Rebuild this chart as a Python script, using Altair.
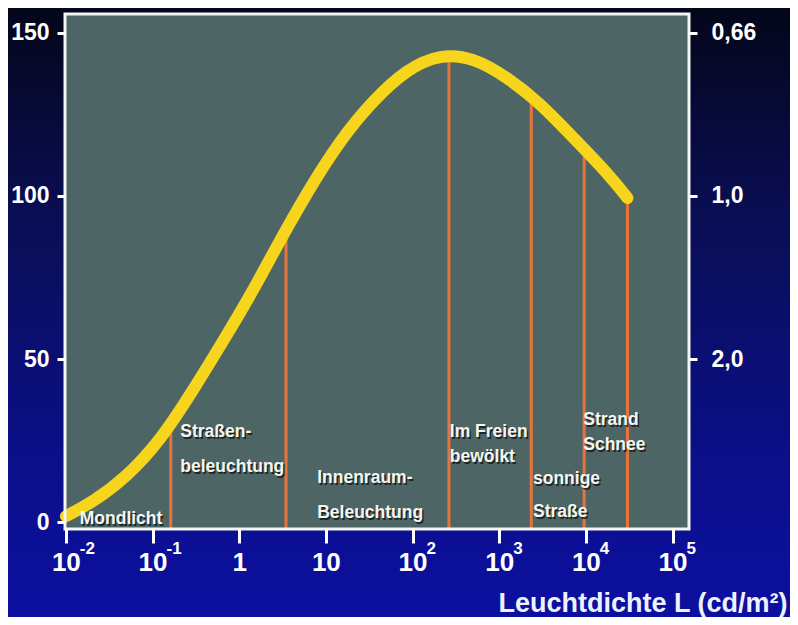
import altair as alt
import pandas as pd

# ---- data ----
curve_exp = [-2.0, -1.69, -1.30, -0.91, -0.53, -0.14, 0.16, 0.39, 0.78, 1.16, 1.55, 1.94, 2.32, 2.70, 3.09, 3.47, 3.85, 4.25, 4.48]
curve_val = [1.8, 6.1, 13.8, 25, 40.5, 57.5, 71, 82.5, 101, 117, 129.5, 139, 143.5, 142.5, 136.5, 128.5, 118, 107, 99.4]

rule_exp = [-0.79, 0.54, 2.42, 3.37, 3.98, 4.48]
rule_top = [30, 88, 143, 131, 114, 99]

label_text = ["Mondlicht", "Straßen-", "beleuchtung", "Innenraum-", "Beleuchtung",
              "Im Freien", "bewölkt", "sonnige", "Straße", "Strand", "Schnee"]
label_exp = [-1.84, -0.68, -0.68, 0.90, 0.90, 2.43, 2.43, 3.39, 3.39, 3.97, 3.97]
label_val = [1, 27.6, 16.8, 13.5, 2.8, 27.6, 20, 13.2, 3, 31.3, 23.6]

x_ticks = [0.01, 0.1, 1, 10, 100, 1000, 10000, 100000]
x_tick_base = ["10", "10", "1", "10", "10", "10", "10", "10"]
sup_ticks = [0.01, 0.1, 100, 1000, 10000, 100000]
sup_text = ["-2", "-1", "2", "3", "4", "5"]
y_ticks = [0, 50, 100, 150]
right_ticks = [150, 100, 50]
right_labels = ["0,66", "1,0", "2,0"]

# ---- tables ----
curve = pd.DataFrame({"L": [10 ** e for e in curve_exp], "v": curve_val})
rules = pd.DataFrame({"L": [10 ** e for e in rule_exp], "top": rule_top})
labels = pd.DataFrame({"L": [10 ** e for e in label_exp], "v": label_val, "t": label_text})
sups = pd.DataFrame({"L": sup_ticks, "t": sup_text})
right = pd.DataFrame({"v": right_ticks})

W, H = 624, 515
PAD = {"left": 57, "top": 6, "right": 101, "bottom": 88}
YDOM = [-2.1, 155.8]
XDOM = [10 ** -2.01, 10 ** 5.19]
FONT = "Liberation Sans"

xscale = alt.Scale(type="log", domain=XDOM, nice=False)
yscale = alt.Scale(domain=YDOM, nice=False, zero=False)

xlabel_expr = ""
for v, lab in zip(x_ticks, x_tick_base):
    xlabel_expr += f"abs(datum.value - {v}) < {v}*0.01 ? '{lab}' : "
xlabel_expr += "''"
rlabel_expr = ""
for v, lab in zip(right_ticks, right_labels):
    rlabel_expr += f"datum.value == {v} ? '{lab}' : "
rlabel_expr += "''"

xaxis = alt.Axis(values=x_ticks, labelExpr=xlabel_expr, title="Leuchtdichte L (cd/m²)",
                 domain=False, tickColor="white", tickWidth=3, tickSize=14,
                 labelColor="white", labelFont=FONT, labelFontWeight="bold",
                 labelFontSize=26, labelPadding=6, labelBaseline="top", labelAlign="center",
                 titleColor="#eef2ff", titleFont=FONT, titleFontWeight="bold",
                 titleFontSize=27, titleAnchor="end", titleAlign="right",
                 titleX=W + 98, titleY=82, titleBaseline="alphabetic",
                 grid=False, zindex=2)
X = alt.X("L:Q", scale=xscale, axis=xaxis)

one = alt.Data(values=[{"a": 1}])

bg = alt.Chart(one).mark_rect(
    fill=alt.Gradient(gradient="linear", x1=0, y1=0, x2=0, y2=1,
                      stops=[alt.GradientStop(color="#04061a", offset=0),
                             alt.GradientStop(color="#0a0e55", offset=0.35),
                             alt.GradientStop(color="#0b0f8a", offset=0.75),
                             alt.GradientStop(color="#0c10a0", offset=1)])
).encode(x=alt.value(-PAD["left"]), x2=alt.value(W + PAD["right"]),
         y=alt.value(-PAD["top"]), y2=alt.value(H + PAD["bottom"]))

plotbg = alt.Chart(one).mark_rect(fill="#4e6565").encode(
    x=alt.value(0), x2=alt.value(W), y=alt.value(0), y2=alt.value(H))

rule_chart = alt.Chart(rules).mark_rule(color="#e8743a", strokeWidth=3).encode(
    x=X,
    y=alt.Y("top:Q", scale=yscale, axis=None),
    y2=alt.datum(YDOM[0]),
)

line = alt.Chart(curve).mark_line(color="#f7d51c", strokeWidth=12, strokeCap="round",
                                  interpolate="basis").encode(
    x=X,
    y=alt.Y("v:Q", scale=yscale,
            axis=alt.Axis(values=y_ticks, title=None, domain=False, tickColor="white",
                          tickWidth=3, tickSize=8, labelColor="white", labelFont=FONT,
                          labelFontWeight="bold", labelFontSize=23, labelPadding=8,
                          grid=False, zindex=2)),
)

shadow = alt.Chart(labels).mark_text(align="left", baseline="middle", font=FONT,
                                     fontWeight="bold", fontSize=17.5, color="#111111",
                                     opacity=0.75, dx=1.5, dy=2).encode(
    x=X,
    y=alt.Y("v:Q", scale=yscale, axis=None),
    text="t:N")

texts = alt.Chart(labels).mark_text(align="left", baseline="middle", font=FONT,
                                    fontWeight="bold", fontSize=17.5, color="#f4f6f0").encode(
    x=X,
    y=alt.Y("v:Q", scale=yscale, axis=None),
    text="t:N")

sup_chart = alt.Chart(sups).mark_text(align="left", baseline="middle", font=FONT,
                                      fontWeight="bold", fontSize=17, color="white",
                                      dx=14).encode(
    x=X,
    y=alt.value(H + 20),
    text="t:N")

right_axis = alt.Chart(right).mark_point(opacity=0).encode(
    y=alt.Y("v:Q", scale=yscale,
            axis=alt.Axis(orient="right", values=right_ticks, labelExpr=rlabel_expr, title=None,
                          domain=False, tickColor="white", tickWidth=3, tickSize=8,
                          labelColor="white", labelFont=FONT, labelFontWeight="bold",
                          labelFontSize=23, labelPadding=14, grid=False, zindex=2)),
)

frame = alt.Chart(one).mark_rect(fill="transparent", stroke="#f4f6f4", strokeWidth=3).encode(
    x=alt.value(0), x2=alt.value(W), y=alt.value(0), y2=alt.value(H))

chart = alt.layer(bg, plotbg, rule_chart, line, shadow, texts, sup_chart, right_axis, frame).resolve_scale(
    y="independent"
).properties(
    width=W, height=H, padding=PAD, autosize=alt.AutoSizeParams(type="none"),
    background="#04061a"
).configure_view(stroke=None)

chart.save("out.html", embed_options={"renderer": "svg", "actions": False})
